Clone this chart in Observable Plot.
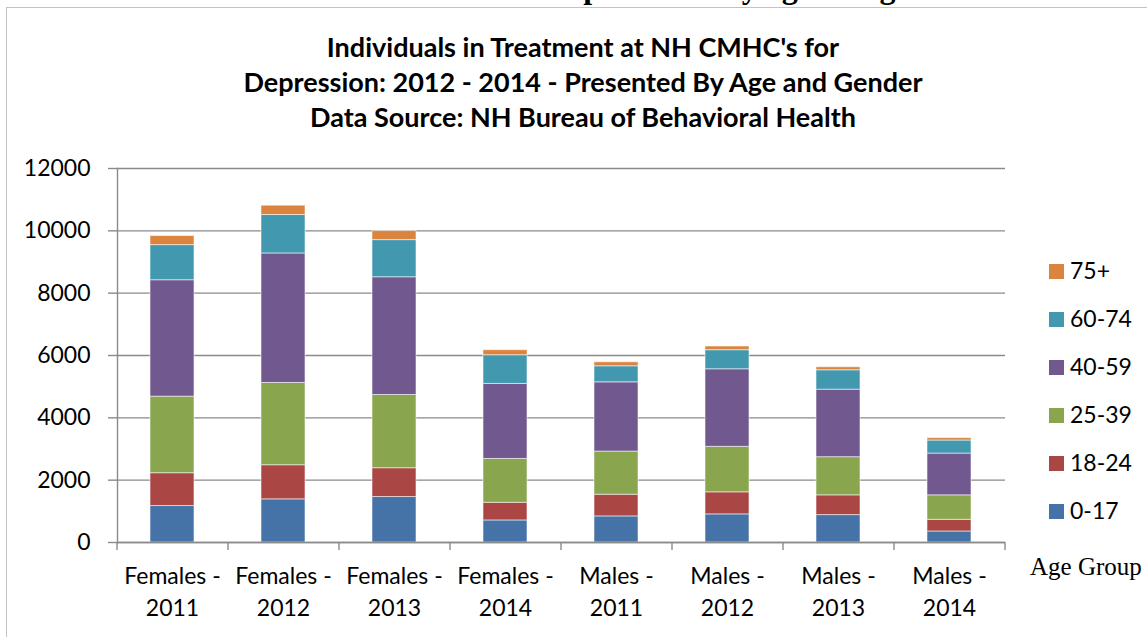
<!DOCTYPE html>
<html>
<head>
<meta charset="utf-8">
<script src="https://cdn.jsdelivr.net/npm/d3@7"></script>
<script src="https://cdn.jsdelivr.net/npm/@observablehq/plot@0.6"></script>
<style>
  html, body { margin: 0; padding: 0; background: #fff; }
  body { position: relative; width: 1147px; height: 637px; overflow: hidden; font-family: Lato, "Open Sans", sans-serif; }
  #frame { position: absolute; left: 6px; top: 7px; width: 1200px; height: 700px; border-left: 1.5px solid #c3c3c3; border-top: 1.5px solid #c3c3c3; }
  #cut { position: absolute; left: 118px; width: 1000px; top: -29px; height: 32px; line-height: 32px; text-align: center; font-family: "Liberation Serif", "Times New Roman", serif; font-weight: bold; font-size: 32px; white-space: nowrap; color: #000; }
  #chart { position: absolute; left: 0; top: 0; }
  .title { position: absolute; left: 83px; width: 1000px; text-align: center; font-family: Lato, sans-serif; font-weight: bold; font-size: 27px; line-height: 36px; height: 36px; color: #000; white-space: nowrap; }
  #legend { position: absolute; left: 1049px; top: 0; }
  .item { position: absolute; left: 0; height: 30px; line-height: 30px; font-size: 23px; white-space: nowrap; color: #000; }
  .sw { display: inline-block; width: 15px; height: 15px; vertical-align: middle; margin-right: 6px; position: relative; top: -2px; }
  #agegroup { position: absolute; left: 1030px; top: 553px; font-family: "Liberation Serif", "Times New Roman", serif; font-size: 25px; white-space: nowrap; color: #000; line-height: 28px; }
</style>
</head>
<body>
<div id="frame"></div>
<div id="cut">Mental Health Centers presented by age and gender</div>
<div id="chart"></div>
<div class="title" style="top:29px">Individuals in Treatment at NH CMHC's for</div>
<div class="title" style="top:64px">Depression: 2012 - 2014 - Presented By Age and Gender</div>
<div class="title" style="top:99px">Data Source: NH Bureau of Behavioral Health</div>
<div id="legend"></div>
<div id="agegroup">Age Group</div>
<script>
// Categories (x axis)
const categories = [
  "Females - 2011", "Females - 2012", "Females - 2013", "Females - 2014",
  "Males - 2011", "Males - 2012", "Males - 2013", "Males - 2014"
];
// Age groups (stack order, bottom to top)
const ageGroups = ["0-17", "18-24", "25-39", "40-59", "60-74", "75+"];
const ageColors = ["#4572A7", "#AA4643", "#89A54E", "#71588F", "#4198AF", "#DB843D"];

// Series values per age group, one per category
const age0_17   = [1170, 1385, 1459,  708,  837,  902,  879,  354];
const age18_24  = [1053, 1094,  924,  567,  696,  708,  634,  374];
const age25_39  = [2457, 2641, 2350, 1407, 1384, 1459, 1224,  785];
const age40_59  = [3735, 4154, 3777, 2406, 2222, 2489, 2167, 1340];
const age60_74  = [1127, 1233, 1192,  921,  515,  612,  622,  419];
const age75plus = [ 290,  299,  290,  161,  129,  119,   96,   77];

// Y axis tick labels
const yTicks = [0, 2000, 4000, 6000, 8000, 10000, 12000];

const series = [age0_17, age18_24, age25_39, age40_59, age60_74, age75plus];
const data = [];
series.forEach((vals, i) => {
  vals.forEach((v, j) => data.push({category: categories[j], age: ageGroups[i], value: v}));
});

const W = 1147, H = 637;
const mL = 117, mR = 142, mT = 168, mB = 95;
const step = (W - mL - mR) / categories.length;
const tickLenPx = 8;
const yMax = 12000;
const tickLenData = tickLenPx * yMax / (H - mT - mB);
const gridColor = "#8a8a8a";

const plot = Plot.plot({
  width: W,
  height: H,
  marginLeft: mL,
  marginRight: mR,
  marginTop: mT,
  marginBottom: mB,
  style: {fontFamily: "Lato, 'Open Sans', sans-serif", fontSize: "23px", color: "#000", background: "transparent", overflow: "visible"},
  x: {domain: categories, paddingInner: 0.6, paddingOuter: 0.3, label: null},
  y: {domain: [0, yMax], label: null},
  color: {domain: ageGroups, range: ageColors},
  marks: [
    Plot.gridY(yTicks, {stroke: gridColor, strokeOpacity: 1, strokeWidth: 1.4}),
    Plot.axisY(yTicks, {tickSize: 9, tickPadding: 18, stroke: gridColor, strokeWidth: 1.4, fill: "#000", tickFormat: d => String(d), label: null}),
    Plot.barY(data, {x: "category", y: "value", fill: "age", stroke: "#ffffff", strokeOpacity: 0.55, strokeWidth: 1}),
    Plot.ruleY([0], {stroke: gridColor, strokeWidth: 1.4}),
    Plot.frame({anchor: "left", stroke: gridColor, strokeWidth: 1.4}),
    // category boundary tick marks below the axis
    Plot.ruleX(categories, {x: d => d, dx: -step / 2, y1: 0, y2: -tickLenData, stroke: gridColor, strokeWidth: 1.4}),
    Plot.ruleX(categories.slice(-1), {x: d => d, dx: step / 2, y1: 0, y2: -tickLenData, stroke: gridColor, strokeWidth: 1.4}),
    Plot.axisX({tickSize: 0, tickPadding: 18, lineHeight: 1.42, fill: "#000", label: null,
      tickFormat: d => d.replace(" - ", " -\n")})
  ]
});
document.getElementById("chart").appendChild(plot);

// Legend (top to bottom: 75+ ... 0-17)
const legend = document.getElementById("legend");
const legendTop = 255, legendStep = 48;
ageGroups.slice().reverse().forEach((g, i) => {
  const item = document.createElement("div");
  item.className = "item";
  item.style.top = (legendTop + i * legendStep) + "px";
  const sw = document.createElement("span");
  sw.className = "sw";
  sw.style.background = ageColors[ageGroups.indexOf(g)];
  item.appendChild(sw);
  item.appendChild(document.createTextNode(g));
  legend.appendChild(item);
});
</script>
</body>
</html>
